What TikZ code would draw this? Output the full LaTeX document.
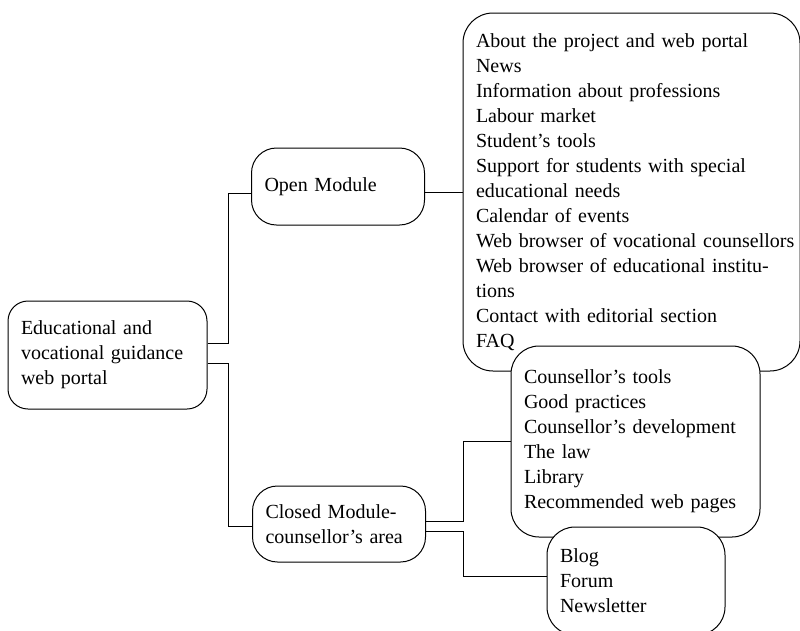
\documentclass[tikz,border=0pt]{standalone}
\usepackage{fontspec}
\setmainfont{Liberation Serif}

\begin{document}
\begin{tikzpicture}[x=1pt,y=-1pt,line width=1pt,
        box/.style={draw,fill=white,rounded corners=25pt,align=left,
            inner xsep=13pt,inner ysep=0pt,
            font=\fontsize{20}{25}\selectfont}]
        \useasboundingbox (0,0) rectangle (800,630);
        % root and modules
        \node[box,rounded corners=20pt,text width=173pt,minimum height=108pt] (portal) at (107.5,355)
            {Educational and\\vocational guidance\\web portal};
        \node[box,text width=147pt,minimum height=77pt] (open) at (338,186.5) {Open Module};
        \node[box,text width=147pt,minimum height=76pt] (closed) at (339,524)
            {Closed Module-\\counsellor’s area};
        % contents
        \node[box,rounded corners=30pt,text width=311pt,minimum height=358pt] (opencontent) at (631.5,192)
            {\mbox{About the project and web portal}\\News\\Information about professions\\Labour market\\
             Student’s tools\\\mbox{Support for students with special}\\educational needs\\Calendar of events\\
             \mbox{Web browser of vocational counsellors}\\\mbox{Web browser of educational institu-}\\tions\\
             Contact with editorial section\\FAQ};
        \node[box,rounded corners=28pt,text width=223pt,minimum height=191pt] (counsellor) at (635.5,441.5)
            {Counsellor’s tools\\Good practices\\Counsellor’s development\\The law\\Library\\
             Recommended web pages};
        \node[box,rounded corners=28pt,text width=152pt,minimum height=108pt] (community) at (636,581)
            {Blog\\Forum\\Newsletter};
        % connectors
        \draw ([yshift=12pt]portal.east) -- ++(21,0) |- ([yshift=-6.5pt]open.west);
        \draw ([yshift=-8pt]portal.east) -- ++(21,0) |- ([yshift=-2pt]closed.west);
        \draw (open.east |- opencontent.west) -- (opencontent.west);
        \draw ([yshift=3pt]closed.east) -- ++(37,0) |- (counsellor.west);
        \draw ([yshift=-7pt]closed.east) -- ++(37,0) |- ([yshift=5pt]community.west);
    \end{tikzpicture}
\end{document}
